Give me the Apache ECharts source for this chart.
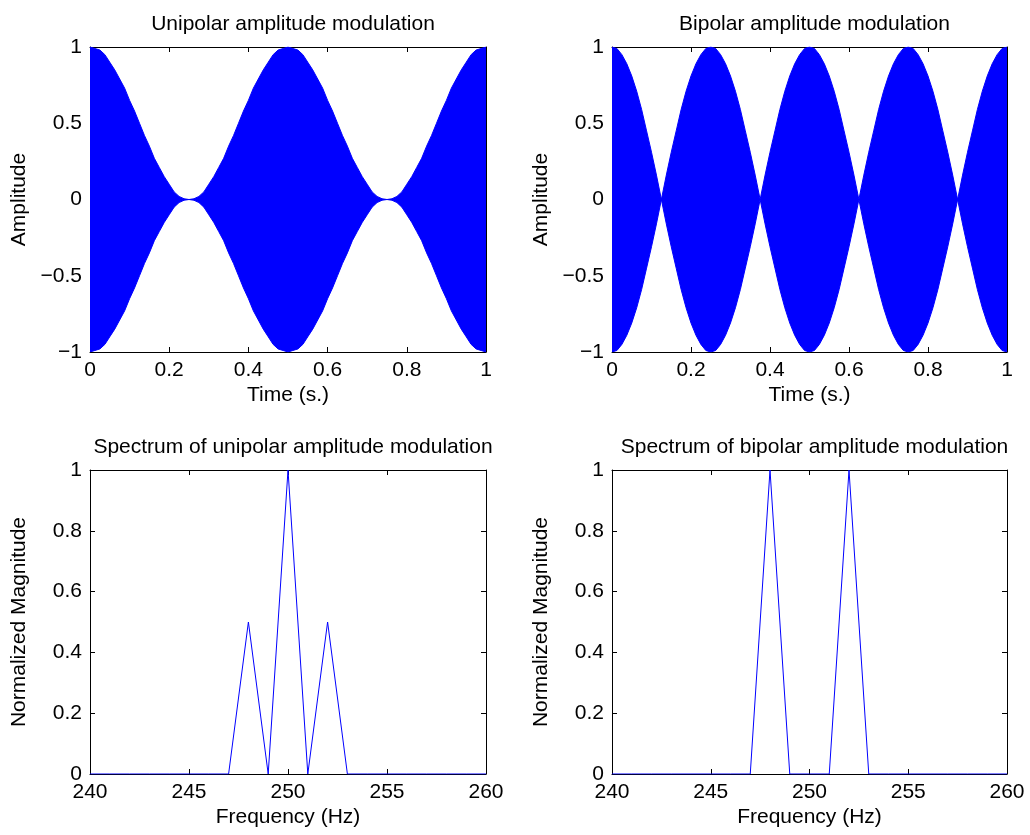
<!DOCTYPE html>
<html>
<head>
<meta charset="utf-8">
<title>Amplitude modulation</title>
<script src="https://cdn.jsdelivr.net/npm/echarts@6/dist/echarts.min.js"></script>
<style>
  html, body { margin: 0; padding: 0; background: #fff; }
  #chart { width: 1030px; height: 835px; }
</style>
</head>
<body>
<div id="chart"></div>
<script>
// Sample instants (s) for the envelopes of the modulated signals
const timeS = [0, 0.0125, 0.025, 0.0375, 0.05, 0.0625, 0.075, 0.0875, 0.1, 0.1125, 0.125, 0.1375, 0.15, 0.1625, 0.175, 0.1875, 0.2, 0.2125, 0.225, 0.2375, 0.25, 0.2625, 0.275, 0.2875, 0.3, 0.3125, 0.325, 0.3375, 0.35, 0.3625, 0.375, 0.3875, 0.4, 0.4125, 0.425, 0.4375, 0.45, 0.4625, 0.475, 0.4875, 0.5, 0.5125, 0.525, 0.5375, 0.55, 0.5625, 0.575, 0.5875, 0.6, 0.6125, 0.625, 0.6375, 0.65, 0.6625, 0.675, 0.6875, 0.7, 0.7125, 0.725, 0.7375, 0.75, 0.7625, 0.775, 0.7875, 0.8, 0.8125, 0.825, 0.8375, 0.85, 0.8625, 0.875, 0.8875, 0.9, 0.9125, 0.925, 0.9375, 0.95, 0.9625, 0.975, 0.9875, 1];

// Unipolar AM: upper and lower envelope of the filled waveform
const unipolarUpper = [1, 0.99, 0.98, 0.95, 0.9, 0.85, 0.79, 0.73, 0.65, 0.58, 0.5, 0.42, 0.35, 0.27, 0.21, 0.15, 0.1, 0.05, 0.02, 0.005, 0,
  0.005, 0.02, 0.05, 0.1, 0.15, 0.21, 0.27, 0.35, 0.42, 0.5, 0.58, 0.65, 0.73, 0.79, 0.85, 0.9, 0.95, 0.98, 0.99, 1,
  0.99, 0.98, 0.95, 0.9, 0.85, 0.79, 0.73, 0.65, 0.58, 0.5, 0.42, 0.35, 0.27, 0.21, 0.15, 0.1, 0.05, 0.02, 0.005, 0,
  0.005, 0.02, 0.05, 0.1, 0.15, 0.21, 0.27, 0.35, 0.42, 0.5, 0.58, 0.65, 0.73, 0.79, 0.85, 0.9, 0.95, 0.98, 0.99, 1];
const unipolarLower = [-1, -0.99, -0.98, -0.95, -0.9, -0.85, -0.79, -0.73, -0.65, -0.58, -0.5, -0.42, -0.35, -0.27, -0.21, -0.15, -0.1, -0.05, -0.02, -0.005, 0,
  -0.005, -0.02, -0.05, -0.1, -0.15, -0.21, -0.27, -0.35, -0.42, -0.5, -0.58, -0.65, -0.73, -0.79, -0.85, -0.9, -0.95, -0.98, -0.99, -1,
  -0.99, -0.98, -0.95, -0.9, -0.85, -0.79, -0.73, -0.65, -0.58, -0.5, -0.42, -0.35, -0.27, -0.21, -0.15, -0.1, -0.05, -0.02, -0.005, 0,
  -0.005, -0.02, -0.05, -0.1, -0.15, -0.21, -0.27, -0.35, -0.42, -0.5, -0.58, -0.65, -0.73, -0.79, -0.85, -0.9, -0.95, -0.98, -0.99, -1];

// Bipolar AM: upper and lower envelope of the filled waveform
const bipolarUpper = [1, 0.99, 0.95, 0.89, 0.81, 0.71, 0.59, 0.45, 0.31, 0.16, 0,
  0.16, 0.31, 0.45, 0.59, 0.71, 0.81, 0.89, 0.95, 0.99, 1,
  0.99, 0.95, 0.89, 0.81, 0.71, 0.59, 0.45, 0.31, 0.16, 0,
  0.16, 0.31, 0.45, 0.59, 0.71, 0.81, 0.89, 0.95, 0.99, 1,
  0.99, 0.95, 0.89, 0.81, 0.71, 0.59, 0.45, 0.31, 0.16, 0,
  0.16, 0.31, 0.45, 0.59, 0.71, 0.81, 0.89, 0.95, 0.99, 1,
  0.99, 0.95, 0.89, 0.81, 0.71, 0.59, 0.45, 0.31, 0.16, 0,
  0.16, 0.31, 0.45, 0.59, 0.71, 0.81, 0.89, 0.95, 0.99, 1];
const bipolarLower = [-1, -0.99, -0.95, -0.89, -0.81, -0.71, -0.59, -0.45, -0.31, -0.16, 0,
  -0.16, -0.31, -0.45, -0.59, -0.71, -0.81, -0.89, -0.95, -0.99, -1,
  -0.99, -0.95, -0.89, -0.81, -0.71, -0.59, -0.45, -0.31, -0.16, 0,
  -0.16, -0.31, -0.45, -0.59, -0.71, -0.81, -0.89, -0.95, -0.99, -1,
  -0.99, -0.95, -0.89, -0.81, -0.71, -0.59, -0.45, -0.31, -0.16, 0,
  -0.16, -0.31, -0.45, -0.59, -0.71, -0.81, -0.89, -0.95, -0.99, -1,
  -0.99, -0.95, -0.89, -0.81, -0.71, -0.59, -0.45, -0.31, -0.16, 0,
  -0.16, -0.31, -0.45, -0.59, -0.71, -0.81, -0.89, -0.95, -0.99, -1];

// Spectra: frequency bins (Hz) and normalized magnitudes
const freqHz = [240, 241, 242, 243, 244, 245, 246, 247, 248, 249, 250, 251, 252, 253, 254, 255, 256, 257, 258, 259, 260];
const unipolarSpectrum = [0, 0, 0, 0, 0, 0, 0, 0, 0.5, 0, 1, 0, 0.5, 0, 0, 0, 0, 0, 0, 0, 0];
const bipolarSpectrum = [0, 0, 0, 0, 0, 0, 0, 0, 1, 0, 0, 0, 1, 0, 0, 0, 0, 0, 0, 0, 0];

// Panel titles and axis names
const titles = ['Unipolar amplitude modulation', 'Bipolar amplitude modulation',
  'Spectrum of unipolar amplitude modulation', 'Spectrum of bipolar amplitude modulation'];
const xNames = ['Time (s.)', 'Time (s.)', 'Frequency (Hz)', 'Frequency (Hz)'];
const yNames = ['Amplitude', 'Amplitude', 'Normalized Magnitude', 'Normalized Magnitude'];

const FONT = 'Liberation Sans, Arial, Helvetica, sans-serif';
const FS = 21;
const BLUE = '#0000ff';

const grids = [
  { left: 90, top: 47, width: 396, height: 305 },
  { left: 612, top: 47, width: 395, height: 305 },
  { left: 90, top: 470, width: 396, height: 304 },
  { left: 612, top: 470, width: 395, height: 304 }
];

const xRanges = [
  { min: 0, max: 1, interval: 0.2 },
  { min: 0, max: 1, interval: 0.2 },
  { min: 240, max: 260, interval: 5 },
  { min: 240, max: 260, interval: 5 }
];
const yRanges = [
  { min: -1, max: 1, interval: 0.5 },
  { min: -1, max: 1, interval: 0.5 },
  { min: 0, max: 1, interval: 0.2 },
  { min: 0, max: 1, interval: 0.2 }
];

const fmt = v => String(v).replace('-', '\u2212');
const lineAxis = { show: true, onZero: false, lineStyle: { color: '#000', width: 1 } };
const tickIn = { show: true, inside: true, length: 5, lineStyle: { color: '#000', width: 1 } };

const xAxes = [], yAxes = [], titleOpts = [];
grids.forEach((g, i) => {
  xAxes.push({
    type: 'value', gridIndex: i, position: 'bottom', ...xRanges[i],
    name: xNames[i], nameLocation: 'middle', nameGap: 33,
    nameTextStyle: { fontFamily: FONT, fontSize: FS, color: '#000' },
    axisLine: lineAxis, axisTick: tickIn, splitLine: { show: false },
    axisLabel: { fontFamily: FONT, fontSize: FS, color: '#000', margin: 8, formatter: fmt }
  });
  xAxes.push({
    type: 'value', gridIndex: i, position: 'top', ...xRanges[i],
    axisLine: lineAxis, axisTick: tickIn, splitLine: { show: false },
    axisLabel: { show: false }
  });
  yAxes.push({
    type: 'value', gridIndex: i, position: 'left', ...yRanges[i],
    name: yNames[i], nameLocation: 'middle', nameGap: 60, nameRotate: 90,
    nameTextStyle: { fontFamily: FONT, fontSize: FS, color: '#000' },
    axisLine: lineAxis, axisTick: tickIn, splitLine: { show: false },
    axisLabel: { fontFamily: FONT, fontSize: FS, color: '#000', margin: 8, formatter: fmt }
  });
  yAxes.push({
    type: 'value', gridIndex: i, position: 'right', ...yRanges[i],
    axisLine: lineAxis, axisTick: tickIn, splitLine: { show: false },
    axisLabel: { show: false }
  });
  titleOpts.push({
    text: titles[i],
    left: g.left + g.width / 2, top: i < 2 ? 9 : 432,
    textAlign: 'center',
    textStyle: { fontFamily: FONT, fontSize: FS, fontWeight: 'normal', color: '#000' }
  });
});

const pairs = (xs, ys) => xs.map((x, k) => [x, ys[k]]);

// Filled envelope; the fill reaches just past zero so the two halves meet without a seam
function envelopeSeries(grid, values, origin) {
  return {
    type: 'line', xAxisIndex: grid * 2, yAxisIndex: grid * 2,
    data: pairs(timeS, values), showSymbol: false, symbol: 'none',
    lineStyle: { color: BLUE, width: 1 },
    areaStyle: { color: BLUE, opacity: 1, origin: origin },
    silent: true, z: 1
  };
}
function spectrumSeries(grid, values) {
  return {
    type: 'line', xAxisIndex: grid * 2, yAxisIndex: grid * 2,
    data: pairs(freqHz, values), showSymbol: false, symbol: 'none',
    lineStyle: { color: BLUE, width: 1 }, silent: true
  };
}

const chart = echarts.init(document.getElementById('chart'), null, { renderer: 'canvas' });
chart.setOption({
  animation: false,
  backgroundColor: '#fff',
  title: titleOpts,
  grid: grids.map(g => ({ ...g, containLabel: false })),
  xAxis: xAxes,
  yAxis: yAxes,
  series: [
    envelopeSeries(0, unipolarUpper, -0.004),
    envelopeSeries(0, unipolarLower, 0.004),
    envelopeSeries(1, bipolarUpper, -0.004),
    envelopeSeries(1, bipolarLower, 0.004),
    spectrumSeries(2, unipolarSpectrum),
    spectrumSeries(3, bipolarSpectrum)
  ]
});
</script>
</body>
</html>
